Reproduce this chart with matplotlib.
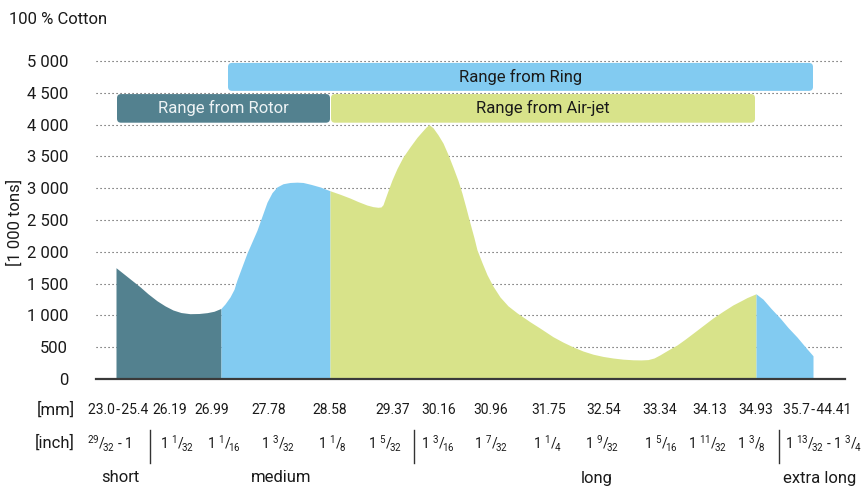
import matplotlib
matplotlib.use("Agg")
import matplotlib.pyplot as plt
from matplotlib.patches import FancyBboxPatch
from matplotlib.transforms import blended_transform_factory

# ---------------- data ----------------
title = "100 % Cotton"
y_label = "[1 000 tons]"
y_ticks = [0, 500, 1000, 1500, 2000, 2500, 3000, 3500, 4000, 4500, 5000]
y_tick_labels = ["0", "500", "1 000", "1 500", "2 000", "2 500", "3 000",
                 "3 500", "4 000", "4 500", "5 000"]

mm_labels = ["23.0\u200a-\u200a25.4", "26.19", "26.99", "27.78", "28.58", "29.37", "30.16",
             "30.96", "31.75", "32.54", "33.34", "34.13", "34.93", "35.7\u200a-\u200a44.41"]


def frac(n, d):
    return r"$\mathregular{^{%s}/\!_{%s}}$" % (n, d)


inch_labels = [frac(29, 32) + " - 1", "1 " + frac(1, 32), "1 " + frac(1, 16),
               "1 " + frac(3, 32), "1 " + frac(1, 8), "1 " + frac(5, 32),
               "1 " + frac(3, 16), "1 " + frac(7, 32), "1 " + frac(1, 4),
               "1 " + frac(9, 32), "1 " + frac(5, 16), "1 " + frac(11, 32),
               "1 " + frac(3, 8), "1 " + frac(13, 32) + " - 1 " + frac(3, 4)]
classes = ["short", "medium", "long", "extra long"]

# production curve (position along length axis, 1 000 tons), per spinning segment
rotor_x = [116, 122, 128, 134, 140, 148, 157, 165, 173, 181, 190, 199, 207, 214, 221]
rotor_y = [1750, 1675, 1600, 1525, 1450, 1340, 1230, 1150, 1085, 1045, 1027, 1030,
           1043, 1065, 1110]
ring_lo_x = [221, 225, 230, 234, 237, 242, 247, 252, 257, 262, 267, 272, 277, 283,
             290, 297, 303, 311, 320, 330]
ring_lo_y = [1110, 1180, 1290, 1410, 1560, 1770, 1980, 2160, 2340, 2560, 2780, 2930,
             3020, 3070, 3090, 3095, 3090, 3060, 3020, 2960]
airjet_x = [330, 340, 350, 358, 367, 373, 378, 381, 383, 385, 388, 392, 397, 403,
            410, 417, 422, 426, 429, 433, 438, 443, 448, 453, 458, 462, 466, 470,
            474, 477, 482, 487, 493, 500, 508, 517, 530, 540, 553, 563, 573, 583,
            593, 603, 613, 623, 633, 641, 648, 654, 660, 668, 677, 685, 693, 703,
            713, 723, 733, 741, 747, 756]
airjet_y = [2960, 2905, 2845, 2790, 2735, 2710, 2700, 2705, 2740, 2830, 2960, 3130,
            3310, 3490, 3650, 3800, 3890, 3960, 4000, 3950, 3840, 3710, 3530, 3330,
            3120, 2920, 2690, 2450, 2220, 2030, 1830, 1640, 1460, 1290, 1150, 1040,
            900, 800, 665, 580, 505, 440, 390, 355, 330, 312, 302, 300, 305, 330,
            380, 455, 535, 625, 720, 840, 960, 1065, 1165, 1230, 1280, 1340]
ring_hi_x = [756, 763, 771, 780, 788, 797, 805, 813]
ring_hi_y = [1340, 1255, 1110, 960, 810, 660, 510, 365]

# ranges of spinning technologies (position along length axis)
range_names = ["Range from Ring", "Range from Rotor", "Range from Air-jet"]
range_start = [228, 117, 331]
range_end = [813, 330, 755]
range_low = [4530, 4030, 4030]
range_high = [4970, 4480, 4480]

# ---------------- style ----------------
C_TEAL = "#53818f"
C_BLUE = "#82cbf1"
C_GREEN = "#d8e38a"
TXT = "#1a1a1a"
FONT = ["Roboto", "DejaVu Sans"]
plt.rcParams["font.family"] = FONT
plt.rcParams["mathtext.fontset"] = "custom"
plt.rcParams["mathtext.rm"] = "Roboto"
plt.rcParams["mathtext.it"] = "Roboto"

W, H = 861, 488
fig = plt.figure(figsize=(W / 100, H / 100), dpi=100)
X0, X1 = 96, 845
Y0, Y1 = 379, 61
ax = fig.add_axes([X0 / W, 1 - Y0 / H, (X1 - X0) / W, (Y0 - Y1) / H])
ax.set_xlim(X0, X1)
ax.set_ylim(0, 5000)

for s in ax.spines.values():
    s.set_visible(False)
ax.axhline(0, color="#3a3a3a", lw=1.6, zorder=5, clip_on=False)
for v in y_ticks[1:]:
    ax.plot([X0, 843], [v, v], color="#444444", lw=0.8, ls=(0, (1, 2.6)),
            zorder=0, clip_on=False)

ax.fill_between(rotor_x, 0, rotor_y, color=C_TEAL, lw=0, zorder=2)
ax.fill_between(ring_lo_x, 0, ring_lo_y, color=C_BLUE, lw=0, zorder=2)
ax.fill_between(airjet_x, 0, airjet_y, color=C_GREEN, lw=0, zorder=2)
ax.fill_between(ring_hi_x, 0, ring_hi_y, color=C_BLUE, lw=0, zorder=2)

# range boxes
aspect = 5000 / (Y0 - Y1)
box_colors = [C_BLUE, C_TEAL, C_GREEN]
box_text = [TXT, "#eef3f5", TXT]
for name, a, b, lo, hi, c, tc in zip(range_names, range_start, range_end,
                                     range_low, range_high, box_colors, box_text):
    p = FancyBboxPatch((a, lo), b - a, hi - lo,
                       boxstyle="round,pad=0,rounding_size=4",
                       mutation_aspect=aspect, fc=c, ec="none", zorder=3,
                       clip_on=False)
    ax.add_patch(p)
    ax.text((a + b) / 2, (lo + hi) / 2, name, ha="center", va="center",
            color=tc, fontsize=12, zorder=4)

ax.set_xticks([])
ax.set_yticks(y_ticks)
ax.set_yticklabels(y_tick_labels)
ax.tick_params(axis="y", length=0, pad=20, labelsize=12, labelcolor=TXT)

fig.text(9 / W, 1 - 20 / H, title, ha="left", va="center", fontsize=12, color=TXT)
fig.text(15 / W, 1 - 222 / H, y_label, ha="center", va="center", rotation=90,
         fontsize=12, color=TXT)

# bottom label rows
tr = blended_transform_factory(ax.transData, fig.transFigure)
mm_pos = [118, 170, 212, 269, 330, 393, 439, 491, 549, 604, 660, 710, 756, 817]
inch_pos = [109, 177, 224, 278, 332, 385, 438, 491, 547, 602, 661, 708, 751, 823]
class_pos = [120, 281, 597, 820]
sep_pos = [150, 414, 779]

fig.text(75 / W, 1 - 410 / H, "[mm]", ha="right", va="center", fontsize=12, color=TXT)
fig.text(75 / W, 1 - 443 / H, "[inch]", ha="right", va="center", fontsize=12, color=TXT)
for x, t in zip(mm_pos, mm_labels):
    ax.text(x, 1 - 410 / H, t, transform=tr, ha="center", va="center",
            fontsize=10, color=TXT)
for x, t in zip(inch_pos, inch_labels):
    ax.text(x, 1 - 444 / H, t, transform=tr, ha="center", va="center",
            fontsize=10, color=TXT)
for x, t in zip(class_pos, classes):
    ax.text(x, 1 - 478 / H, t, transform=tr, ha="center", va="center",
            fontsize=12, color=TXT)
for x in sep_pos:
    ax.plot([x, x], [1 - 430 / H, 1 - 463 / H], transform=tr, color="#333333",
            lw=1, clip_on=False)

fig.savefig("out.png", dpi=100)
